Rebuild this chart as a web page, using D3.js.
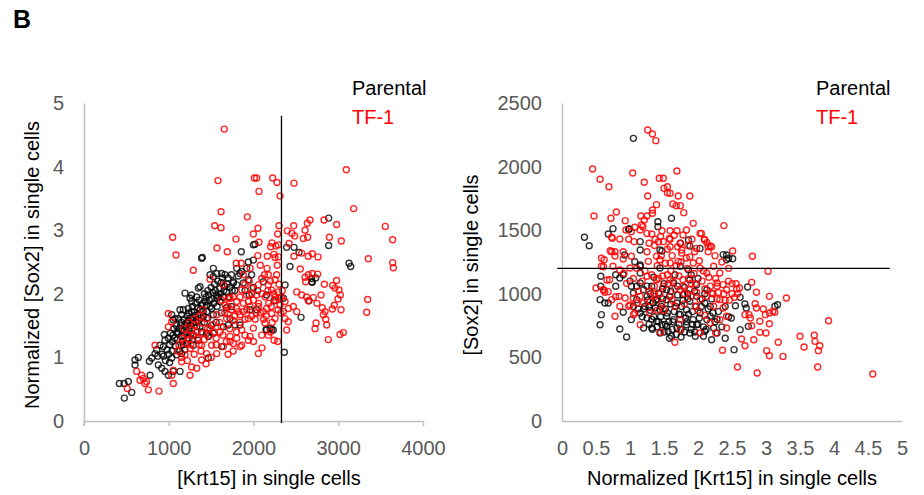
<!DOCTYPE html>
<html>
<head>
<meta charset="utf-8">
<script src="https://cdn.jsdelivr.net/npm/d3@7"></script>
<style>
  body { margin: 0; background: #fff; }
  svg { font-family: "Liberation Sans", Arial, sans-serif; }
</style>
</head>
<body>
<svg id="fig" width="924" height="495"></svg>
<script>
// ---- data: left panel, [Krt15] vs normalized [Sox2] ----
const leftParental = [
  [1998,2.77],[1856,2.66],[1396,2.57],[2887,3.19],[2887,2.76],[2391,2.73],[2478,2.73],[2537,2.65],[3127,2.48],[3147,2.43],
  [2686,2.24],[2734,2.25],[2694,2.18],[2655,1.89],[2561,1.63],[2364,1.08],[2148,1.44],[2214,1.44],
  [476,0.36],[417,0.59],[472,0.59],[523,0.62],[563,0.45],[602,0.88],[602,0.96],[641,1.0],[779,0.72],[771,0.94],[799,0.99],
  [838,1.06],[858,1.12],[897,1.19],[936,1.17],[948,1.36],[995,1.30],[956,1.27],[877,0.88],[917,0.83],[956,0.78],[995,0.72],
  [1054,0.78],[1133,0.78],[1035,1.67],[1074,1.61],[1113,1.61],[1152,1.67],[1172,1.75],[1231,1.77],[1251,1.93],[1270,1.98],
  [1330,1.95],[1349,2.09],[1369,2.11],[1487,2.30],[1566,2.32],[1664,2.30],[1762,2.19],[1802,2.14],[1880,2.17],[1939,2.22],
  [1526,2.40],[1094,1.40],[1152,1.33],[1211,1.54],[1290,1.59],[1349,1.67],[1408,1.72],[1447,1.82],[1506,1.77],[1566,1.93],
  [1605,1.88],[1683,2.03],[1703,1.51],[1782,1.51],[1094,1.04],[1035,0.99],[1152,1.06],[1290,1.19],[1349,1.27],[1467,1.33],
  [1526,1.38],[1211,1.22],[1388,1.40],[1290,1.35],[1645,1.48],[1369,1.48],[1802,2.40],[1861,2.35],[1919,2.40],[1978,2.30],
  [1388,2.56],[2018,2.78],[2116,2.19],[2155,1.98],[2242,1.89],[2234,1.43],[2155,1.43],[2352,1.93],[2372,2.14],[2431,2.43],
  [2686,2.19],[1192,2.01],[1270,1.88],[1526,2.27],[1625,2.32],[1762,2.17],[1841,2.32],[1939,2.50],[1998,2.53],[1054,1.59],
  [1133,1.75],[1290,1.54],[1447,1.38],[1526,1.67],[1625,1.17],[1467,0.99],[1723,1.61],[1841,1.51],[1959,1.75],[2038,1.75],
  [2195,1.46],
  [920,1.05],[980,1.12],[1010,1.20],[1040,1.25],[1070,1.30],[1100,1.28],[1120,1.45],[1140,1.50],[1160,1.42],[1180,1.60],
  [1200,1.48],[1220,1.65],[1240,1.70],[1260,1.62],[1280,1.80],[1300,1.72],[1320,1.85],[1340,1.78],[1360,1.90],[1380,1.62],
  [1400,1.85],[1420,2.00],[1440,1.95],[1460,2.05],[1480,1.90],[1500,2.10],[1520,2.02],[1540,2.15],[1560,1.98],[1580,2.20],
  [1600,2.08],[1620,2.18],[1640,1.95],[1660,2.12],[1700,2.25],[1720,2.10],[1740,2.30],[1780,2.05],[1820,2.28],[1900,2.05],
  [1950,1.98],[2000,2.10],[2050,2.05],[1060,1.45],[1180,1.35],[1240,1.45],[1320,1.55],[1420,1.55],[1560,1.55],[1620,1.70],
  [1740,1.80],[870,1.02],[1010,0.92],[1130,1.10],[1230,1.30],[1080,1.18],[1170,1.20],[1280,1.28],[1460,1.62],[1500,1.50],
  [1680,1.78],
  [1050,1.35],[1090,1.50],[1110,1.38],[1150,1.55],[1190,1.52],[1210,1.40],[1230,1.58],[1250,1.50],[1270,1.72],[1310,1.66],
  [1330,1.48],[1350,1.58],[1370,1.75],[1390,1.82],[1410,1.65],[1430,1.88],[1450,1.72],[1470,1.98],[1490,1.80],[1510,1.92],
  [1530,1.85],[1550,2.05],[1570,1.80],[1590,1.95],[1610,2.00],[1630,2.25],[1650,2.05],[1690,2.15],[1710,1.95],[1750,2.05],
  [1000,1.05],[960,0.95],[1020,1.38],[1160,1.25],[1260,1.38],[1190,1.12],[940,1.02],[1040,1.10]
];
const leftTF1 = [
  [1655,4.59],[1581,3.78],[2010,3.82],[1617,3.29],[1927,3.21],[1542,3.07],[1617,3.04],[1046,2.89],[1998,2.94],[1793,2.86],
  [1569,2.72],[1691,2.66],[1086,2.61],[1797,2.48],[1856,2.48],[3095,3.95],[2037,3.82],[2226,3.82],[2277,3.75],[2478,3.74],
  [2065,3.61],[2313,3.54],[3182,3.34],[2832,3.16],[2667,3.16],[2635,3.11],[2981,3.09],[3555,3.06],[2053,3.03],[2301,3.07],
  [2474,3.07],[2399,2.99],[2454,2.95],[2486,2.91],[2608,3.0],[2285,2.94],[2895,2.89],[2588,2.87],[2639,2.89],[2065,2.81],
  [3036,2.83],[3642,2.85],[2218,2.80],[2203,2.74],[2265,2.75],[2293,2.77],[2419,2.79],[2478,2.59],[2568,2.64],[2647,2.59],
  [2694,2.63],[2761,2.58],[2163,2.59],[2242,2.62],[2254,2.57],[2293,2.58],[3355,2.55],[3642,2.49],[3650,2.41],
  [2552,2.39],[2608,2.26],[2647,2.30],[2694,2.32],[2757,2.31],[2616,2.19],[2836,2.15],[2934,2.13],[2981,2.21],[2962,2.09],
  [3009,2.06],[3025,1.98],[2997,1.92],[3347,1.91],[3336,1.71],[2510,2.03],[2568,1.98],[2627,1.95],[2647,1.89],[2706,1.94],
  [2797,1.98],[2749,1.85],[2812,1.78],[2844,1.72],[2824,1.67],[2852,1.60],[2864,1.51],[2930,1.76],[2954,1.82],[3033,1.75],
  [2738,1.54],[2726,1.45],[2883,1.28],[3021,1.36],[3060,1.39],[2057,1.06],[2391,1.43],[2285,1.25],[2242,1.27],[2097,1.35],
  [2175,1.35],[2411,1.56],[2372,1.61],
  [511,0.51],[621,0.78],[680,0.72],[700,0.67],[739,0.62],[661,0.64],[720,0.59],[759,0.49],[885,0.47],[1054,0.59],
  [838,1.19],[995,1.48],[1035,1.56],[1290,2.37],[1211,1.35],[1270,1.43],[1310,1.51],[1330,1.40],[1388,1.54],[1447,1.61],
  [1487,1.46],[1566,1.67],[1605,1.40],[1664,1.82],[1683,1.61],[1723,1.93],[1802,1.88],[1841,1.67],[1880,1.72],[1919,1.98],
  [1959,1.80],[1978,2.09],[1251,1.14],[1192,1.04],[1152,0.93],[1270,0.85],[1330,0.83],[1251,0.72],[1054,0.80],[1035,0.72],
  [1388,0.96],[1447,1.06],[1566,1.06],[1645,1.17],[1762,1.22],[1861,1.19],[1802,1.30],[1723,1.33],[1506,1.19],[1388,1.19],
  [1645,2.14],[1703,1.93],[1861,2.06],[1802,1.77],[1939,1.61],[1998,1.46],[1959,1.33],[1861,1.43],[1723,1.25],
  [995,1.69],[1487,2.23],[2510,1.72],[2470,1.80],[2411,1.77],[2372,1.88],[2313,1.93],[2254,1.95],[2293,2.03],[2214,2.06],
  [2175,2.14],[2254,2.22],[2273,2.30],[2175,2.30],[2097,2.24],[2057,2.14],[2037,1.98],[2057,1.80],[2116,1.72],[2155,1.77],
  [2214,1.69],[2254,1.61],[2313,1.82],[2352,1.72],[2136,1.54],[1841,1.17],[1939,1.27],
  [1120,1.20],[1160,1.30],[1200,1.22],[1240,1.28],[1260,1.20],[1300,1.35],[1340,1.30],[1360,1.20],[1400,1.38],[1420,1.28],
  [1460,1.45],[1480,1.35],[1520,1.52],[1540,1.40],[1560,1.30],[1600,1.55],[1620,1.48],[1640,1.35],[1660,1.70],[1700,1.68],
  [1720,1.45],[1740,1.75],[1760,1.58],[1780,1.65],[1800,1.40],[1820,1.72],[1840,1.55],[1880,1.85],[1900,1.60],[1920,1.75],
  [1940,1.88],[1980,1.65],[2000,1.90],[2020,1.60],[2060,1.85],[2080,1.70],[2100,2.00],[2120,1.60],[2140,1.95],[2160,2.40],
  [2180,1.85],[2200,2.20],[2220,1.55],[2240,2.00],[2260,1.90],[2280,2.45],[2300,2.15],[2320,1.70],[2340,2.05],[1360,1.65],
  [1400,1.75],[1300,1.60],[1240,1.55],[1180,1.45],[1100,1.10],[1150,1.00],[1220,0.95],[1300,1.05],[1380,1.10],[1440,0.90],
  [1500,1.00],[1560,1.20],[1680,1.25],[1700,1.05],[1760,1.10],[1900,1.35],[2000,1.25],[2100,1.15],[2200,1.40],[2130,2.30],
  [2080,2.45],[1880,2.30],[1960,2.40],[2050,2.60],
  [1620,1.90],[1700,1.80],[1760,1.95],[1840,1.95],[1900,2.15],[1980,2.00],[2030,1.70],[2150,1.65],[2210,1.80],[2290,1.75],
  [2330,1.95],[1950,2.20],[2170,2.05]
];

// ---- data: right panel, normalized [Krt15] vs [Sox2] ----
const rightParental = [
  [1.05,2222],[1.41,1567],[1.41,1528],[1.61,1594],[0.98,1507],[0.75,1512],[0.68,1470],[0.33,1444],[0.40,1378],[1.86,1423],
  [1.15,1410],[0.99,1509],[1.47,1336],[0.57,1138],[0.57,1059],[0.56,954],[0.58,836],[0.56,757],[0.63,928],[0.68,928],
  [0.79,1059],[0.85,723],[0.95,660],[0.79,1150],[0.85,1124],[0.90,1150],[1.02,1059],[1.05,1006],[1.10,954],[1.15,1163],
  [1.15,1085],[0.90,855],[1.02,797],[1.15,849],[1.25,810],[1.32,731],[1.47,757],[1.44,692],[1.61,666],[1.56,705],
  [1.69,731],[1.83,757],[1.88,692],[1.96,666],[2.08,666],[2.10,705],[2.23,731],[2.28,692],[2.20,639],[1.25,980],
  [1.34,928],[1.44,875],[1.54,823],[1.64,797],[1.74,836],[1.83,875],[1.93,797],[2.03,849],[1.42,1006],[1.54,954],
  [1.69,928],[1.78,993],[1.88,941],[1.98,980],[2.10,928],[2.18,823],[1.10,1059],[1.20,1032],[1.32,1059],[1.54,1032],
  [1.64,1085],[1.88,1111],[1.98,1072],[2.13,1032],[1.15,1216],[1.44,1203],[1.74,1216],[1.86,1190],[1.20,731],[1.54,744],
  [1.39,784],[1.98,757],[2.13,797],[2.37,1308],[2.42,1268],[2.51,1276],[2.73,1053],[2.62,972],[2.55,906],[2.69,920],
  [2.71,888],[3.17,914],[3.13,902],[2.62,718],[2.74,744],[2.53,561],[2.49,810],[2.42,1305],[2.45,1279],[1.33,721],
  [2.40,650],[0.92,1305],[1.15,1344],[1.07,1252],[1.15,1226],[1.44,1344],[1.74,1397],[1.88,1375],[2.03,1357],
  [1.12,880],[1.18,820],[1.22,900],[1.28,760],[1.30,870],[1.35,820],[1.38,950],[1.40,740],[1.45,820],[1.48,960],
  [1.50,700],[1.52,880],[1.57,780],[1.60,920],[1.62,720],[1.65,860],[1.68,680],[1.70,990],[1.72,760],[1.76,900],
  [1.80,700],[1.82,810],[1.85,960],[1.90,720],[1.92,860],[1.95,1020],[2.00,760],[2.05,900],[2.08,740],[2.15,880],
  [2.20,960],[2.25,780],[2.30,860],[2.35,740],[1.30,1000],[1.50,1080],[1.60,1020],[1.80,1050],[1.35,1130],[1.25,1060],
  [1.05,900],[1.00,1100],[1.58,650],[1.75,660],[1.95,700],[2.40,900],[2.45,820],[1.66,1150],[1.90,1150],[2.00,1120],
  [1.20,880],[1.26,950],[1.32,800],[1.37,890],[1.42,780],[1.46,900],[1.52,760],[1.55,850],[1.58,980],[1.63,780],
  [1.67,900],[1.72,840],[1.75,720],[1.78,950],[1.83,780],[1.86,840],[1.92,760],[1.97,900],[2.02,810],[2.06,960],
  [2.12,720],[2.18,900],[2.22,850],[2.28,800],[1.40,960],[1.70,1060],[1.85,1000],[2.10,1000],[1.48,1040],[1.28,900]
];
const rightTF1 = [
  [1.26,2288],[1.33,2256],[1.38,2204],[0.45,1981],[0.56,1900],[0.69,1842],[1.04,1950],[1.69,1965],[1.21,1877],[1.43,1908],
  [1.49,1908],[1.50,1829],[1.55,1795],[1.59,1790],[1.55,1842],[1.26,1769],[1.71,1769],[1.88,1769],[1.39,1701],[1.63,1706],
  [1.68,1693],[1.74,1693],[1.33,1659],[1.33,1633],[1.79,1638],[0.47,1612],[0.80,1643],[0.72,1594],[1.16,1612],[1.21,1580],
  [1.25,1612],[0.93,1575],[1.07,1523],[1.15,1502],[1.19,1528],[0.94,1502],[1.02,1488],[2.38,1536],[0.73,1444],[0.85,1431],
  [1.32,1470],[1.47,1496],[1.59,1496],[1.69,1496],[1.37,1429],[1.49,1410],[1.59,1429],[1.83,1502],[1.78,1462],[1.91,1429],
  [2.03,1475],[2.09,1429],[2.13,1402],[2.18,1376],[0.74,1436],[0.98,1429],[1.06,1410],[0.71,1339],[0.78,1331],[0.90,1331],
  [1.17,1541],[1.25,1475],[1.28,1397],[1.42,1410],[1.58,1436],[1.74,1397],[1.59,1370],[1.76,1344],[1.93,1554],[2.05,1475],
  [2.10,1423],[2.15,1370],[1.98,1357],[2.15,1331],[2.20,1370],[0.50,1046],[0.61,1032],[0.63,1012],[0.58,1216],[0.62,1268],
  [0.75,1216],[0.70,1111],[0.73,954],[0.78,823],[0.90,1274],[1.02,1295],[1.0,1203],[0.84,980],[0.93,967],[0.98,902],
  [0.85,902],[1.15,757],[1.05,836],[1.66,619],[2.36,556],[1.45,697],[1.74,718],[2.03,692],[2.26,692],[2.42,731],
  [1.20,928],[1.29,849],[1.37,980],[1.47,928],[1.49,1059],[1.59,980],[1.66,902],[1.74,1032],[1.78,1111],[1.88,1032],
  [1.96,902],[2.03,954],[2.13,980],[2.20,1006],[2.28,1059],[2.32,954],[2.37,888],[2.42,823],[2.23,902],[2.32,797],
  [2.18,770],[1.74,797],[1.59,1111],[1.39,1111],[1.25,1138],[1.10,928],[1.07,849],[1.44,1268],[1.59,1242],[1.71,1255],
  [1.83,1281],[1.93,1242],[1.39,1295],[1.27,1255],[2.03,1203],[2.13,1163],[2.23,1216],[2.32,1163],[2.28,1085],[2.37,1072],
  [2.42,1032],[2.80,1295],[3.03,1177],[2.79,1090],[2.56,1079],[2.57,1038],[2.61,1046],[2.58,1001],[2.54,972],[2.86,1012],
  [3.05,980],[3.30,967],[2.84,922],[2.86,888],[2.96,880],[2.99,836],[3.05,849],[3.10,862],[3.13,855],[2.75,836],
  [2.69,836],[2.77,810],[2.91,784],[3.05,765],[2.79,749],[3.92,788],[2.91,697],[3.0,692],[2.64,645],[2.82,639],
  [2.69,592],[3.18,619],[3.50,666],[3.71,674],[3.72,626],[3.79,592],[3.77,553],[3.56,582],[3.01,553],[3.05,513],
  [3.25,508],[2.58,424],[2.87,377],[3.76,424],[4.57,369],[2.51,1336],[0.58,1279],[0.61,1213],[0.73,1331],[0.78,1297],
  [0.85,1187],[0.91,1161],[0.95,1082],[0.66,1108],[0.61,1030],[0.68,1017],[0.79,977],[1.0,912],[1.05,965],
  [1.12,1020],[1.18,1100],[1.22,1180],[1.28,1020],[1.32,1150],[1.36,1060],[1.40,1220],[1.44,1000],[1.48,1140],[1.52,1240],
  [1.56,1080],[1.60,1180],[1.62,1300],[1.66,1040],[1.68,1220],[1.72,1140],[1.76,1320],[1.80,1000],[1.84,1200],[1.88,1290],
  [1.90,1080],[1.94,1160],[1.98,1010],[2.02,1260],[2.06,1100],[2.10,1040],[2.16,1130],[2.22,1000],[2.26,1120],[2.30,1010],
  [2.35,1250],[2.40,950],[2.45,1100],[2.50,1000],[1.50,870],[1.62,950],[1.80,920],[1.90,980],[2.00,870],[2.10,830],
  [1.30,940],[1.40,870],[1.55,1350],[1.70,1370],[1.85,1380],[1.45,1450],[1.65,1460],[1.25,1330],[1.10,1200],[1.05,1120],
  [1.15,980],[1.35,1000],[1.42,1120],[1.55,1150],[1.63,1100],[1.78,1060],[1.86,1120],[1.96,1080],[2.08,1180],[2.18,1060],
  [2.28,960],[2.38,1000],[2.46,950],[1.46,1300],[1.36,1380],[1.75,1250],[1.95,1330],[2.25,1300],[2.45,1200],[2.50,1080]
];

// axis ticks and threshold lines
const leftXTicks = [0, 1000, 2000, 3000, 4000];
const leftYTicks = [0, 1, 2, 3, 4, 5];
const rightXTicks = [0, 0.5, 1, 1.5, 2, 2.5, 3, 3.5, 4, 4.5, 5];
const rightYTicks = [0, 500, 1000, 1500, 2000, 2500];
const leftCutoff = { x: 2330, y0: -0.03, y1: 4.8 };
const rightCutoff = { y: 1200, x0: -0.07, x1: 4.82 };

const seriesNames = ['Parental', 'TF-1'];
const seriesColors = ['#000000', '#ff0000'];

const svg = d3.select('#fig');
svg.append('rect').attr('width', 924).attr('height', 495).attr('fill', '#fff');

svg.append('text')
  .attr('x', 13).attr('y', 28)
  .attr('font-size', 25).attr('font-weight', 'bold')
  .text('B');

function drawPanel(p) {
  let g = svg.append('g');
  let sx = d3.scaleLinear().domain(p.xDomain).range([p.left, p.right]);
  let sy = d3.scaleLinear().domain(p.yDomain).range([p.bottom, p.top]);

  // x axis
  let xa = g.append('g')
    .attr('transform', 'translate(0,' + p.bottom + ')')
    .call(d3.axisBottom(sx).tickValues(p.xTicks).tickSize(p.xTickSize).tickSizeOuter(0)
      .tickPadding(20 - p.xTickSize).tickFormat(d3.format('')));
  // y axis
  let ya = g.append('g')
    .attr('transform', 'translate(' + p.left + ',0)')
    .call(d3.axisLeft(sy).tickValues(p.yTicks).tickSize(0).tickSizeOuter(0)
      .tickPadding(20).tickFormat(d3.format('')));

  [xa, ya].forEach(a => {
    a.select('.domain').attr('stroke', '#c0c0c0').attr('stroke-width', 1.5);
    a.selectAll('.tick line').attr('stroke', '#c0c0c0').attr('stroke-width', 1.5);
    a.selectAll('.tick text').attr('fill', '#595959').attr('font-size', 20)
      .attr('font-family', '"Liberation Sans", Arial, sans-serif');
  });
  // y axis runs slightly below the x axis at the corner
  g.append('line')
    .attr('x1', p.left).attr('x2', p.left)
    .attr('y1', p.bottom).attr('y2', p.bottom + p.xTickSize)
    .attr('stroke', '#c0c0c0').attr('stroke-width', 1.5);

  // points: parental first, TF-1 on top
  [p.parental, p.tf1].forEach((pts, i) => {
    g.append('g').selectAll('circle')
      .data(pts)
      .enter().append('circle')
      .attr('cx', d => sx(d[0]))
      .attr('cy', d => sy(d[1]))
      .attr('r', 3)
      .attr('fill', 'none')
      .attr('stroke', seriesColors[i])
      .attr('stroke-opacity', i === 0 ? 0.8 : 0.85)
      .attr('stroke-width', 1.4);
  });

  // threshold line
  if (p.vline) {
    g.append('line')
      .attr('x1', sx(p.vline.x)).attr('x2', sx(p.vline.x))
      .attr('y1', sy(p.vline.y0)).attr('y2', sy(p.vline.y1))
      .attr('stroke', '#000').attr('stroke-width', 1.3);
  }
  if (p.hline) {
    g.append('line')
      .attr('x1', sx(p.hline.x0)).attr('x2', sx(p.hline.x1))
      .attr('y1', sy(p.hline.y)).attr('y2', sy(p.hline.y))
      .attr('stroke', '#000').attr('stroke-width', 1.3);
  }

  // axis titles
  g.append('text')
    .attr('x', p.xTitlePos[0]).attr('y', p.xTitlePos[1])
    .attr('text-anchor', 'middle').attr('dominant-baseline', 'central')
    .attr('font-size', 20).attr('fill', '#000')
    .text(p.xTitle);
  g.append('text')
    .attr('transform', 'translate(' + p.yTitlePos[0] + ',' + p.yTitlePos[1] + ') rotate(-90)')
    .attr('text-anchor', 'middle').attr('dominant-baseline', 'central')
    .attr('font-size', 20).attr('fill', '#000')
    .text(p.yTitle);

  // legend
  seriesNames.forEach((name, i) => {
    g.append('text')
      .attr('x', p.legendX).attr('y', 95 + i * 29)
      .attr('font-size', 20).attr('fill', seriesColors[i])
      .text(name);
  });
}

drawPanel({
  left: 84, right: 423, top: 103, bottom: 421,
  xDomain: [0, 4000], yDomain: [0, 5],
  xTicks: leftXTicks, yTicks: leftYTicks, xTickSize: 5,
  parental: leftParental, tf1: leftTF1,
  vline: leftCutoff,
  xTitle: '[Krt15] in single cells', xTitlePos: [269, 478],
  yTitle: 'Normalized [Sox2] in single cells', yTitlePos: [32, 265],
  legendX: 352
});

drawPanel({
  left: 562, right: 902, top: 103, bottom: 421,
  xDomain: [0, 5], yDomain: [0, 2500],
  xTicks: rightXTicks, yTicks: rightYTicks, xTickSize: 0,
  parental: rightParental, tf1: rightTF1,
  hline: rightCutoff,
  xTitle: 'Normalized [Krt15] in single cells', xTitlePos: [732, 478],
  yTitle: '[Sox2] in single cells', yTitlePos: [471, 265],
  legendX: 816
});
</script>
</body>
</html>
